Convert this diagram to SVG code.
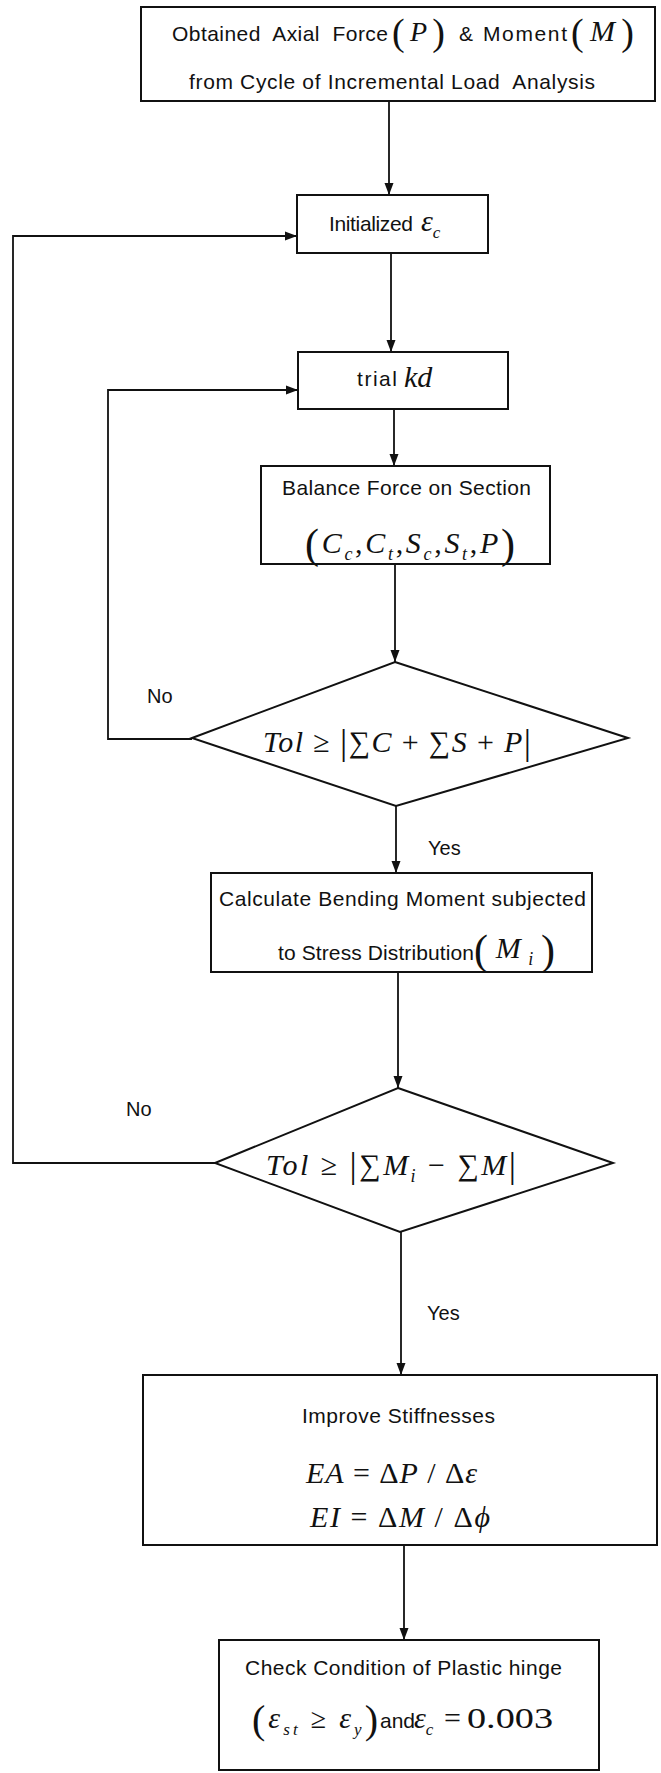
<svg xmlns="http://www.w3.org/2000/svg" width="661" height="1773" viewBox="0 0 661 1773">
<style>
.bg{fill:#fff}
.box{fill:none;stroke:#111;stroke-width:2}
.ln{fill:none;stroke:#111;stroke-width:1.8}
.t{font-family:"Liberation Sans",Arial,sans-serif;font-size:21px;fill:#111}
.lbl{font-family:"Liberation Sans",Arial,sans-serif;font-size:20px;fill:#111}
.u{font-family:"Liberation Serif","Times New Roman",serif;font-size:30px;fill:#111}
.i{font-style:italic}
</style>
<defs>
<marker id="ah" markerWidth="12" markerHeight="10" refX="12" refY="5" orient="auto" markerUnits="userSpaceOnUse">
<path d="M0,0.5 L12,5 L0,9.5 z" fill="#111"/>
</marker>
</defs>
<rect class="bg" x="0" y="0" width="661" height="1773"/>

<g id="connectors">
<path class="ln" d="M389,101 V195" marker-end="url(#ah)"/>
<path class="ln" d="M391,253 V352" marker-end="url(#ah)"/>
<path class="ln" d="M394,409 V466" marker-end="url(#ah)"/>
<path class="ln" d="M395,564 V662" marker-end="url(#ah)"/>
<path class="ln" d="M396,806 V873" marker-end="url(#ah)"/>
<path class="ln" d="M398,972 V1088" marker-end="url(#ah)"/>
<path class="ln" d="M401,1232 V1375" marker-end="url(#ah)"/>
<path class="ln" d="M404,1545 V1640" marker-end="url(#ah)"/>
<path class="ln" d="M192,739 H108 V390 H298" marker-end="url(#ah)"/>
<path class="ln" d="M215,1163 H13 V236 H297" marker-end="url(#ah)"/>
<text class="lbl" x="147" y="703">No</text>
<text class="lbl" x="428" y="855">Yes</text>
<text class="lbl" x="126" y="1116">No</text>
<text class="lbl" x="427" y="1320">Yes</text>
</g>

<g id="n1">
<rect class="box" x="141" y="7" width="514" height="94"/>
<text class="t" x="172" y="41" textLength="216" lengthAdjust="spacing" xml:space="preserve">Obtained  Axial  Force</text>
<text class="u" x="392" y="41" textLength="53" lengthAdjust="spacing"><tspan font-size="38" dy="4">(</tspan><tspan class="i" font-size="28" dy="-4">P</tspan><tspan font-size="38" dy="4">)</tspan></text>
<text class="t" x="459" y="41">&amp;</text>
<text class="t" x="483" y="41" textLength="84">Moment</text>
<text class="u" x="571" y="41" textLength="63" lengthAdjust="spacing"><tspan font-size="38" dy="4">(</tspan><tspan class="i" font-size="30" dy="-4">M</tspan><tspan font-size="38" dy="4">)</tspan></text>
<text class="t" x="189" y="89" textLength="406" xml:space="preserve">from Cycle of Incremental Load  Analysis</text>
</g>

<g id="n2">
<rect class="box" x="297" y="195" width="191" height="58"/>
<text class="t" x="329" y="231" textLength="84">Initialized</text>
<text class="u" x="421" y="231"><tspan class="i">ε</tspan><tspan class="i" font-size="17" dy="7">c</tspan></text>
</g>

<g id="n3">
<rect class="box" x="298" y="352" width="210" height="57"/>
<text class="t" x="357" y="386" textLength="40">trial</text>
<text class="u i" x="404" y="387">kd</text>
</g>

<g id="n4">
<rect class="box" x="261" y="466" width="289" height="98"/>
<text class="t" x="282" y="495" textLength="249">Balance Force on Section</text>
<text class="u" x="305" y="553" font-size="32" textLength="210" lengthAdjust="spacing"><tspan font-size="42" dy="5">(</tspan><tspan class="i" dy="-5">C</tspan><tspan class="i" font-size="18" dy="7">c</tspan><tspan dy="-7">,</tspan><tspan class="i">C</tspan><tspan class="i" font-size="18" dy="7">t</tspan><tspan dy="-7">,</tspan><tspan class="i">S</tspan><tspan class="i" font-size="18" dy="7">c</tspan><tspan dy="-7">,</tspan><tspan class="i">S</tspan><tspan class="i" font-size="18" dy="7">t</tspan><tspan dy="-7">,</tspan><tspan class="i">P</tspan><tspan font-size="42" dy="5">)</tspan></text>
</g>

<g id="n5">
<polygon class="box" points="395,662 628,738 396,806 192,738"/>
<text class="u" x="263" y="752" font-size="31" textLength="268" lengthAdjust="spacing"><tspan class="i">Tol</tspan> ≥ <tspan font-size="36" dy="2">|</tspan><tspan dy="-2">∑</tspan><tspan class="i">C</tspan> + ∑<tspan class="i">S</tspan> + <tspan class="i">P</tspan><tspan font-size="36" dy="2">|</tspan></text>
</g>

<g id="n6">
<rect class="box" x="211" y="873" width="381" height="99"/>
<text class="t" x="219" y="906" textLength="367">Calculate Bending Moment subjected</text>
<text class="t" x="278" y="960" textLength="196">to Stress Distribution</text>
<text class="u" x="474" y="958" font-size="32" textLength="81" lengthAdjust="spacing"><tspan font-size="42" dy="6">(</tspan><tspan class="i" dy="-6">M</tspan><tspan class="i" font-size="18" dy="7">i</tspan><tspan font-size="42" dy="-1">)</tspan></text>
</g>

<g id="n7">
<polygon class="box" points="398,1088 613,1163 400,1232 215,1163"/>
<text class="u" x="266" y="1175" font-size="31" textLength="250" lengthAdjust="spacing"><tspan class="i">Tol</tspan> ≥ <tspan font-size="36" dy="2">|</tspan><tspan dy="-2">∑</tspan><tspan class="i">M</tspan><tspan class="i" font-size="18" dy="7">i</tspan><tspan dy="-7"> − ∑</tspan><tspan class="i">M</tspan><tspan font-size="36" dy="2">|</tspan></text>
</g>

<g id="n8">
<rect class="box" x="143" y="1375" width="514" height="170"/>
<text class="t" x="302" y="1423" textLength="193">Improve Stiffnesses</text>
<text class="u" x="306" y="1483" textLength="171" lengthAdjust="spacing"><tspan class="i">EA</tspan> = Δ<tspan class="i">P</tspan> / Δ<tspan class="i">ε</tspan></text>
<text class="u" x="310" y="1527" textLength="180" lengthAdjust="spacing"><tspan class="i">EI</tspan> = Δ<tspan class="i">M</tspan> / Δ<tspan class="i">ϕ</tspan></text>
</g>

<g id="n9">
<rect class="box" x="219" y="1640" width="380" height="130"/>
<text class="t" x="245" y="1675" textLength="317">Check Condition of Plastic hinge</text>
<text class="u" x="252" y="1728" textLength="126" lengthAdjust="spacing"><tspan font-size="40" dy="5">(</tspan><tspan class="i" dy="-5">ε</tspan><tspan class="i" font-size="17" dy="7">st</tspan><tspan font-size="28" dy="-7"> ≥ </tspan><tspan class="i">ε</tspan><tspan class="i" font-size="17" dy="7">y</tspan><tspan font-size="40" dy="-2">)</tspan></text>
<text class="t" x="380" y="1728" font-size="16">and</text>
<text class="u" x="414" y="1728"><tspan class="i">ε</tspan><tspan class="i" font-size="17" dy="7">c</tspan></text>
<text class="u" x="444" y="1728" font-size="32">=</text>
<text class="u" x="467" y="1728" font-size="36" textLength="86" lengthAdjust="spacingAndGlyphs">0.003</text>
</g>
</svg>
